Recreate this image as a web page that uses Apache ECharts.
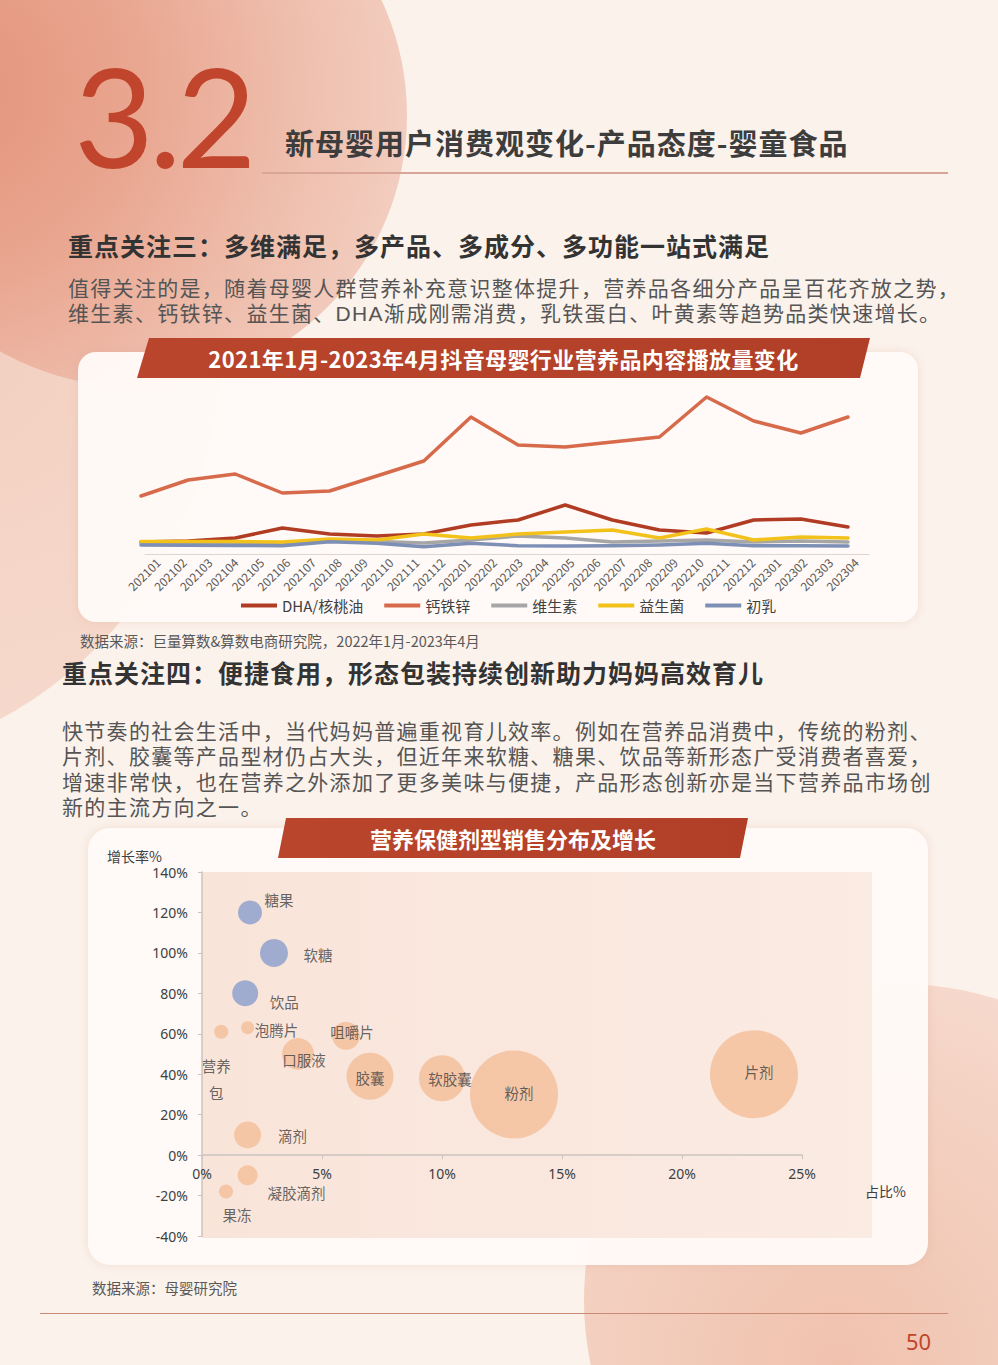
<!DOCTYPE html>
<html><head><meta charset="utf-8">
<script src="https://cdn.jsdelivr.net/npm/echarts@6/dist/echarts.min.js"></script>
<style>
html,body{margin:0;padding:0;}
body{width:998px;height:1365px;position:relative;overflow:hidden;background:#fbf2eb;font-family:"Noto Sans CJK SC","Noto Sans",sans-serif;}
.abs{position:absolute;white-space:nowrap;}
.blob0{position:absolute;left:-620px;top:-70px;width:840px;height:840px;border-radius:50%;background:radial-gradient(circle at 70% 50%, #f3d0c1 0%, #f6dccf 70%, #f9e6dc 100%);}
.blob1{position:absolute;left:-137px;top:-157px;width:544px;height:544px;border-radius:50%;background:radial-gradient(circle at 15% 45%, #e3937b 0%, #e9a690 35%, #efbfae 65%, #f5d8cc 100%);}
.blob2{position:absolute;left:584px;top:984px;width:632px;height:632px;border-radius:50%;background:radial-gradient(circle at 40% 60%, #f0c2ae 0%, #f4d2c3 55%, #f8e3d9 100%);}
.card{position:absolute;background:rgba(255,250,247,0.96);border-radius:18px;box-shadow:0 0 8px rgba(210,160,140,0.25);}
.banner{position:absolute;background:linear-gradient(90deg,#b9452c,#b13f27);color:#fff;font-weight:700;text-align:center;}
.h2{font-size:25px;font-weight:700;color:#333;letter-spacing:1px;line-height:30px;}
.p{font-family:"Liberation Sans","Noto Sans CJK SC",sans-serif;font-size:21px;color:#555;line-height:25px;height:25px;letter-spacing:1.3px;overflow:visible;}
.src{font-size:14.5px;color:#595959;line-height:18px;}
#chart{position:absolute;left:0;top:0;width:998px;height:1365px;}
</style></head>
<body>
<div class="blob0"></div>
<div class="blob1"></div>
<div class="blob2"></div>

<div class="abs" style="left:74px;top:30px;font-family:Lato,'Open Sans',sans-serif;font-size:138px;line-height:170px;color:#c0452c;font-weight:400;letter-spacing:-5px;">3.2</div>
<div class="abs" style="left:285px;top:126px;font-size:29px;line-height:32px;font-weight:700;color:#3d3d3d;letter-spacing:1px;">新母婴用户消费观变化-产品态度-婴童食品</div>
<div class="abs" style="left:262px;top:172px;width:686px;height:1.5px;background:#d9a596;"></div>

<div class="abs h2" style="left:68px;top:230px;">重点关注三：多维满足，多产品、多成分、多功能一站式满足</div>
<div class="abs p" style="left:68px;top:276px;">值得关注的是，随着母婴人群营养补充意识整体提升，营养品各细分产品呈百花齐放之势，</div>
<div class="abs p" style="left:68px;top:301px;">维生素、钙铁锌、益生菌、DHA渐成刚需消费，乳铁蛋白、叶黄素等趋势品类快速增长。</div>

<div class="card" style="left:78px;top:352px;width:840px;height:270px;"></div>
<div class="banner" style="left:137px;top:338px;width:733px;height:40px;line-height:40px;font-size:22px;letter-spacing:0.4px;clip-path:polygon(12px 0,733px 0,723px 40px,0 40px);">2021年1月-2023年4月抖音母婴行业营养品内容播放量变化</div>
<div class="abs src" style="left:80px;top:632px;">数据来源：巨量算数&amp;算数电商研究院，2022年1月-2023年4月</div>

<div class="abs h2" style="left:62px;top:657px;">重点关注四：便捷食用，形态包装持续创新助力妈妈高效育儿</div>
<div class="abs p" style="left:62px;top:719px;">快节奏的社会生活中，当代妈妈普遍重视育儿效率。例如在营养品消费中，传统的粉剂、</div>
<div class="abs p" style="left:62px;top:744px;">片剂、胶囊等产品型材仍占大头，但近年来软糖、糖果、饮品等新形态广受消费者喜爱，</div>
<div class="abs p" style="left:62px;top:770px;">增速非常快，也在营养之外添加了更多美味与便捷，产品形态创新亦是当下营养品市场创</div>
<div class="abs p" style="left:62px;top:795px;">新的主流方向之一。</div>

<div class="card" style="left:88px;top:828px;width:840px;height:437px;border-radius:22px;"></div>
<div class="abs" style="left:202px;top:872px;width:670px;height:366px;background:linear-gradient(90deg,#f9e4d9,#faebe3);"></div>
<div class="banner" style="left:278px;top:818px;width:470px;height:40px;line-height:40px;font-size:22px;clip-path:polygon(8px 0,470px 0,462px 40px,0 40px);">营养保健剂型销售分布及增长</div>
<div class="abs src" style="left:92px;top:1279px;">数据来源：母婴研究院</div>

<div class="abs" style="left:40px;top:1313px;width:908px;height:1px;background:#c98a76;"></div>
<div class="abs" style="left:906px;top:1327px;font-family:'Noto Sans',sans-serif;font-size:22px;line-height:28px;color:#c0452c;">50</div>

<div id="chart"></div>
<script>
// ---------- line chart data ----------
const axisMonths = ['202101','202102','202103','202104','202105','202106','202107','202108','202109','202110','202111','202112',
  '202201','202202','202203','202204','202205','202206','202207','202208','202209','202210','202211','202212',
  '202301','202302','202303','202304'];
const periods = ['202201','202202','202203','202204','202205','202206','202207','202208',
  '202209','202210','202211','202212','202301','202302','202303','202304'];
const seriesNames = ['DHA/核桃油','钙铁锌','维生素','益生菌','初乳'];
const dhaValues      = [12, 13, 16, 26, 20, 18, 20, 29, 34, 49, 34, 24, 21, 34, 35, 27];
const calciumValues  = [58, 74, 80, 61, 63, 78, 93, 137, 109, 107, 112, 117, 157, 133, 121, 137];
const vitaminValues  = [11, 11, 10.5, 10.5, 13, 12.5, 11, 14, 18, 16, 12, 13, 14, 12, 13, 12];
const probioticValues= [12.5, 12.5, 12.5, 12, 15, 14, 20, 16, 20, 22, 24, 16, 25, 14, 17, 16];
const colostrumValues= [9, 8.7, 8.5, 8.3, 12.3, 10.7, 7.3, 10.7, 8.3, 8, 8.3, 9, 10.7, 8.3, 8.3, 8];

// ---------- bubble chart data ----------
const forms      = ['糖果','软糖','饮品','营养包','泡腾片','咀嚼片','口服液','胶囊','软胶囊','粉剂','片剂','滴剂','凝胶滴剂','果冻'];
const shareX     = [2.0, 3.0, 1.8, 0.8, 1.9, 6.0, 4.0, 7.0, 10, 13, 23, 1.9, 1.9, 1.0];
const growthY    = [120, 100, 80, 61, 63, 59, 50, 39, 38, 30, 40, 10, -10, -18];
const scaleSize  = [24, 28, 26, 14, 13, 28, 32, 47, 46, 88, 88, 27, 20, 14];
const newForms   = ['糖果','软糖','饮品'];
const xTicks = [0, 5, 10, 15, 20, 25];
const yTicks = [-40, -20, 0, 20, 40, 60, 80, 100, 120, 140];

// label placement (style only)
const labelOffset = {
  '糖果':[29,-13],'软糖':[44,2],'饮品':[39,8],'营养包':[-5,47],'泡腾片':[29,2],'咀嚼片':[6,-4],
  '口服液':[6,5],'胶囊':[0,1],'软胶囊':[8,0],'粉剂':[5,-2],'片剂':[5,-3],'滴剂':[45,1],'凝胶滴剂':[49,17],'果冻':[11,23]
};
const labelText = {'营养包':'营养\n包'};
const lineColors = ['#b13c24','#d66a4b','#a6a6a6','#f2c21b','#7d8fb5'];
const lineData = [dhaValues, calciumValues, vitaminValues, probioticValues, colostrumValues];

const chart = echarts.init(document.getElementById('chart'), null, {renderer:'svg'});
const font = '"Noto Sans CJK SC","Noto Sans",sans-serif';

// bubble grid geometry
const bubbleGrid = {left: 202, right: 196, top: 872, bottom: 129};
const bubbleGridH = 1365 - bubbleGrid.top - bubbleGrid.bottom;
const yMin = yTicks[0], yMax = yTicks[yTicks.length - 1];
const zeroOffset = -(0 - yMin) / (yMax - yMin) * bubbleGridH; // lift x axis to y = 0

const lineSeries = seriesNames.map((n, k) => ({
  name: n, type: 'line', xAxisIndex: 0, yAxisIndex: 0,
  data: lineData[k].map((v, i) => [i, v]),
  symbol: 'none', smooth: false,
  lineStyle: {width: 3.5, color: lineColors[k], cap: 'round', join: 'round'},
  itemStyle: {color: lineColors[k]}
}));

const bubbleData = forms.map((f, i) => ({
  name: f,
  value: [shareX[i], growthY[i], scaleSize[i]],
  itemStyle: {color: newForms.includes(f) ? '#8a9ccd' : '#f4be98'},
  label: {offset: labelOffset[f]}
}));

chart.setOption({
  animation: false,
  backgroundColor: 'transparent',
  textStyle: {fontFamily: font},
  legend: {
    data: seriesNames, left: 236, top: 593, icon: 'rect', itemWidth: 36, itemHeight: 4, itemGap: 21,
    textStyle: {fontSize: 15, color: '#404040', fontFamily: font}
  },
  grid: [
    {left: 141, right: 150, top: 384, bottom: 811},
    {left: 145, right: 129, top: 384, bottom: 811},
    bubbleGrid
  ],
  xAxis: [
    {gridIndex: 0, type: 'value', min: 0, max: periods.length - 1, show: false},
    {gridIndex: 1, type: 'category', data: axisMonths, boundaryGap: true,
      axisLine: {lineStyle: {color: '#d9d6d4', width: 1}}, axisTick: {show: false},
      axisLabel: {rotate: 45, interval: 0, fontSize: 12, color: '#595959', margin: 6, fontFamily: font}},
    {gridIndex: 2, type: 'value', min: xTicks[0], max: xTicks[xTicks.length - 1], interval: 5,
      position: 'bottom', offset: zeroOffset,
      name: '占比%', nameLocation: 'end', nameGap: 63,
      nameTextStyle: {fontSize: 14, color: '#404040', verticalAlign: 'top', padding: [29, 0, 0, 0], fontFamily: font},
      axisLine: {onZero: false, lineStyle: {color: '#cbc3be', width: 1.5}},
      axisTick: {show: true, length: 4, lineStyle: {color: '#cbc3be'}},
      axisLabel: {formatter: '{value}%', fontSize: 14, color: '#404040', margin: 11, fontFamily: '"Noto Sans",sans-serif'},
      splitLine: {show: false}}
  ],
  yAxis: [
    {gridIndex: 0, type: 'value', min: 0, max: 170, show: false},
    {gridIndex: 1, type: 'value', show: false},
    {gridIndex: 2, type: 'value', min: yMin, max: yMax, interval: 20,
      name: '增长率%', nameLocation: 'end', nameGap: 9,
      nameTextStyle: {fontSize: 14, color: '#404040', align: 'right', padding: [0, 40, 0, 0], fontFamily: font},
      axisLine: {show: true, onZero: false, lineStyle: {color: '#cbc3be', width: 1.5}},
      axisTick: {show: true, length: 4, lineStyle: {color: '#cbc3be'}},
      axisLabel: {formatter: '{value}%', fontSize: 14, color: '#404040', margin: 14, fontFamily: '"Noto Sans",sans-serif'},
      splitLine: {show: false}}
  ],
  series: lineSeries.concat([{
    type: 'scatter', xAxisIndex: 2, yAxisIndex: 2,
    data: bubbleData,
    symbolSize: d => d[2],
    label: {show: true, position: 'inside', fontSize: 14.5, color: '#404040', lineHeight: 27, fontFamily: font,
      formatter: p => labelText[p.name] || p.name},
    emphasis: {disabled: true}
  }])
});
</script>
</body></html>
